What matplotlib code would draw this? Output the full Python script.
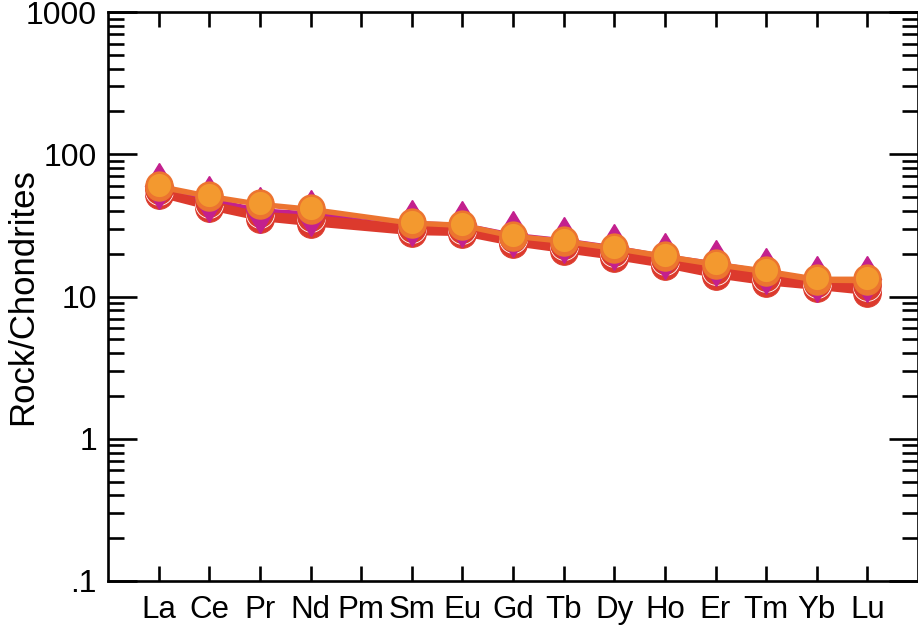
import numpy as np
import matplotlib
matplotlib.use('Agg')
import matplotlib.pyplot as plt

plt.rcParams['font.family'] = ['Liberation Sans', 'DejaVu Sans']

# REE order (Pm has no data)
elements = ['La', 'Ce', 'Pr', 'Nd', 'Pm', 'Sm', 'Eu', 'Gd', 'Tb', 'Dy', 'Ho', 'Er', 'Tm', 'Yb', 'Lu']
measured = ['La', 'Ce', 'Pr', 'Nd', 'Sm', 'Eu', 'Gd', 'Tb', 'Dy', 'Ho', 'Er', 'Tm', 'Yb', 'Lu']

red1 = [51.7, 41.9, 35.1, 32.3, 27.9, 27.5, 23.4, 20.9, 18.7, 16.4, 13.9, 12.4, 11.5, 10.6]
red2 = [53.5, 43.5, 36.5, 33.5, 29.0, 28.5, 24.3, 21.8, 19.4, 17.0, 14.5, 13.0, 11.9, 11.1]
red3 = [55.0, 45.0, 38.0, 35.5, 30.0, 29.5, 25.2, 22.5, 20.2, 17.7, 15.0, 13.5, 12.3, 11.6]
red4 = [57.0, 47.0, 40.0, 37.0, 31.0, 30.5, 26.0, 23.4, 21.0, 18.4, 15.8, 14.1, 12.8, 12.1]
magenta = [59.8, 48.5, 40.6, 38.6, 33.1, 32.1, 27.3, 25.0, 22.3, 19.3, 17.2, 15.0, 13.3, 13.3]
orange_dk = [58.5, 50.0, 44.0, 40.5, 32.5, 31.3, 26.3, 24.2, 21.6, 18.9, 16.6, 14.8, 12.9, 12.8]
orange_lt = [60.8, 51.7, 45.4, 41.9, 33.4, 32.4, 27.1, 25.0, 22.3, 19.6, 17.2, 15.4, 13.5, 13.5]

x = [elements.index(e) + 1 for e in measured]

fig = plt.figure(figsize=(9.18, 6.28), dpi=100)
ax = fig.add_axes([108 / 918, 47 / 628, 810 / 918, 569 / 628])

RED = '#DC3A2D'
MAG = '#C3208E'
ODK = '#EC7430'
OLT = '#F3992F'

for i, s in enumerate([red1, red2, red3, red4]):
    ax.plot(x, s, '-', color=RED, lw=3, marker='o', ms=20,
            mfc=RED, mec='white' if i == 2 else RED, mew=0.6, zorder=2)

ax.plot(x, magenta, '-', color=MAG, lw=2.5, marker='d', ms=23,
        mfc=MAG, mec=MAG, zorder=3)

ax.plot(x, orange_dk, '-', color=ODK, lw=3, marker='o', ms=19.5,
        mfc=ODK, mec=ODK, zorder=4)
ax.plot(x, orange_lt, '-', color=ODK, lw=2, marker='o', ms=18.5,
        mfc=OLT, mec=ODK, mew=1.8, zorder=5)

ax.set_yscale('log')
ax.set_ylim(0.1, 1000)
ax.set_xlim(0, 16)

ax.set_xticks(range(1, 16))
ax.set_xticklabels(elements)
ax.set_yticks([0.1, 1, 10, 100, 1000])
ax.set_yticklabels(['.1', '1', '10', '100', '1000'])
ax.yaxis.set_minor_locator(matplotlib.ticker.LogLocator(base=10, subs=np.arange(2, 10)))
ax.yaxis.set_minor_formatter(matplotlib.ticker.NullFormatter())

ax.tick_params(axis='y', which='major', direction='in', length=21, width=1.9,
               left=True, right=True, labelsize=23, pad=8)
ax.tick_params(axis='y', which='minor', direction='in', length=11.5, width=1.9,
               left=True, right=True)
ax.tick_params(axis='x', which='major', direction='in', length=11, width=1.9,
               top=True, bottom=True, labelsize=22.5, pad=10)
ax.tick_params(axis='x', which='minor', bottom=False, top=False)

for sp in ax.spines.values():
    sp.set_linewidth(1.9)

ax.set_ylabel('Rock/Chondrites', fontsize=25)
ax.yaxis.set_label_coords(-0.085, 0.5)

fig.savefig('out.png', dpi=100)
